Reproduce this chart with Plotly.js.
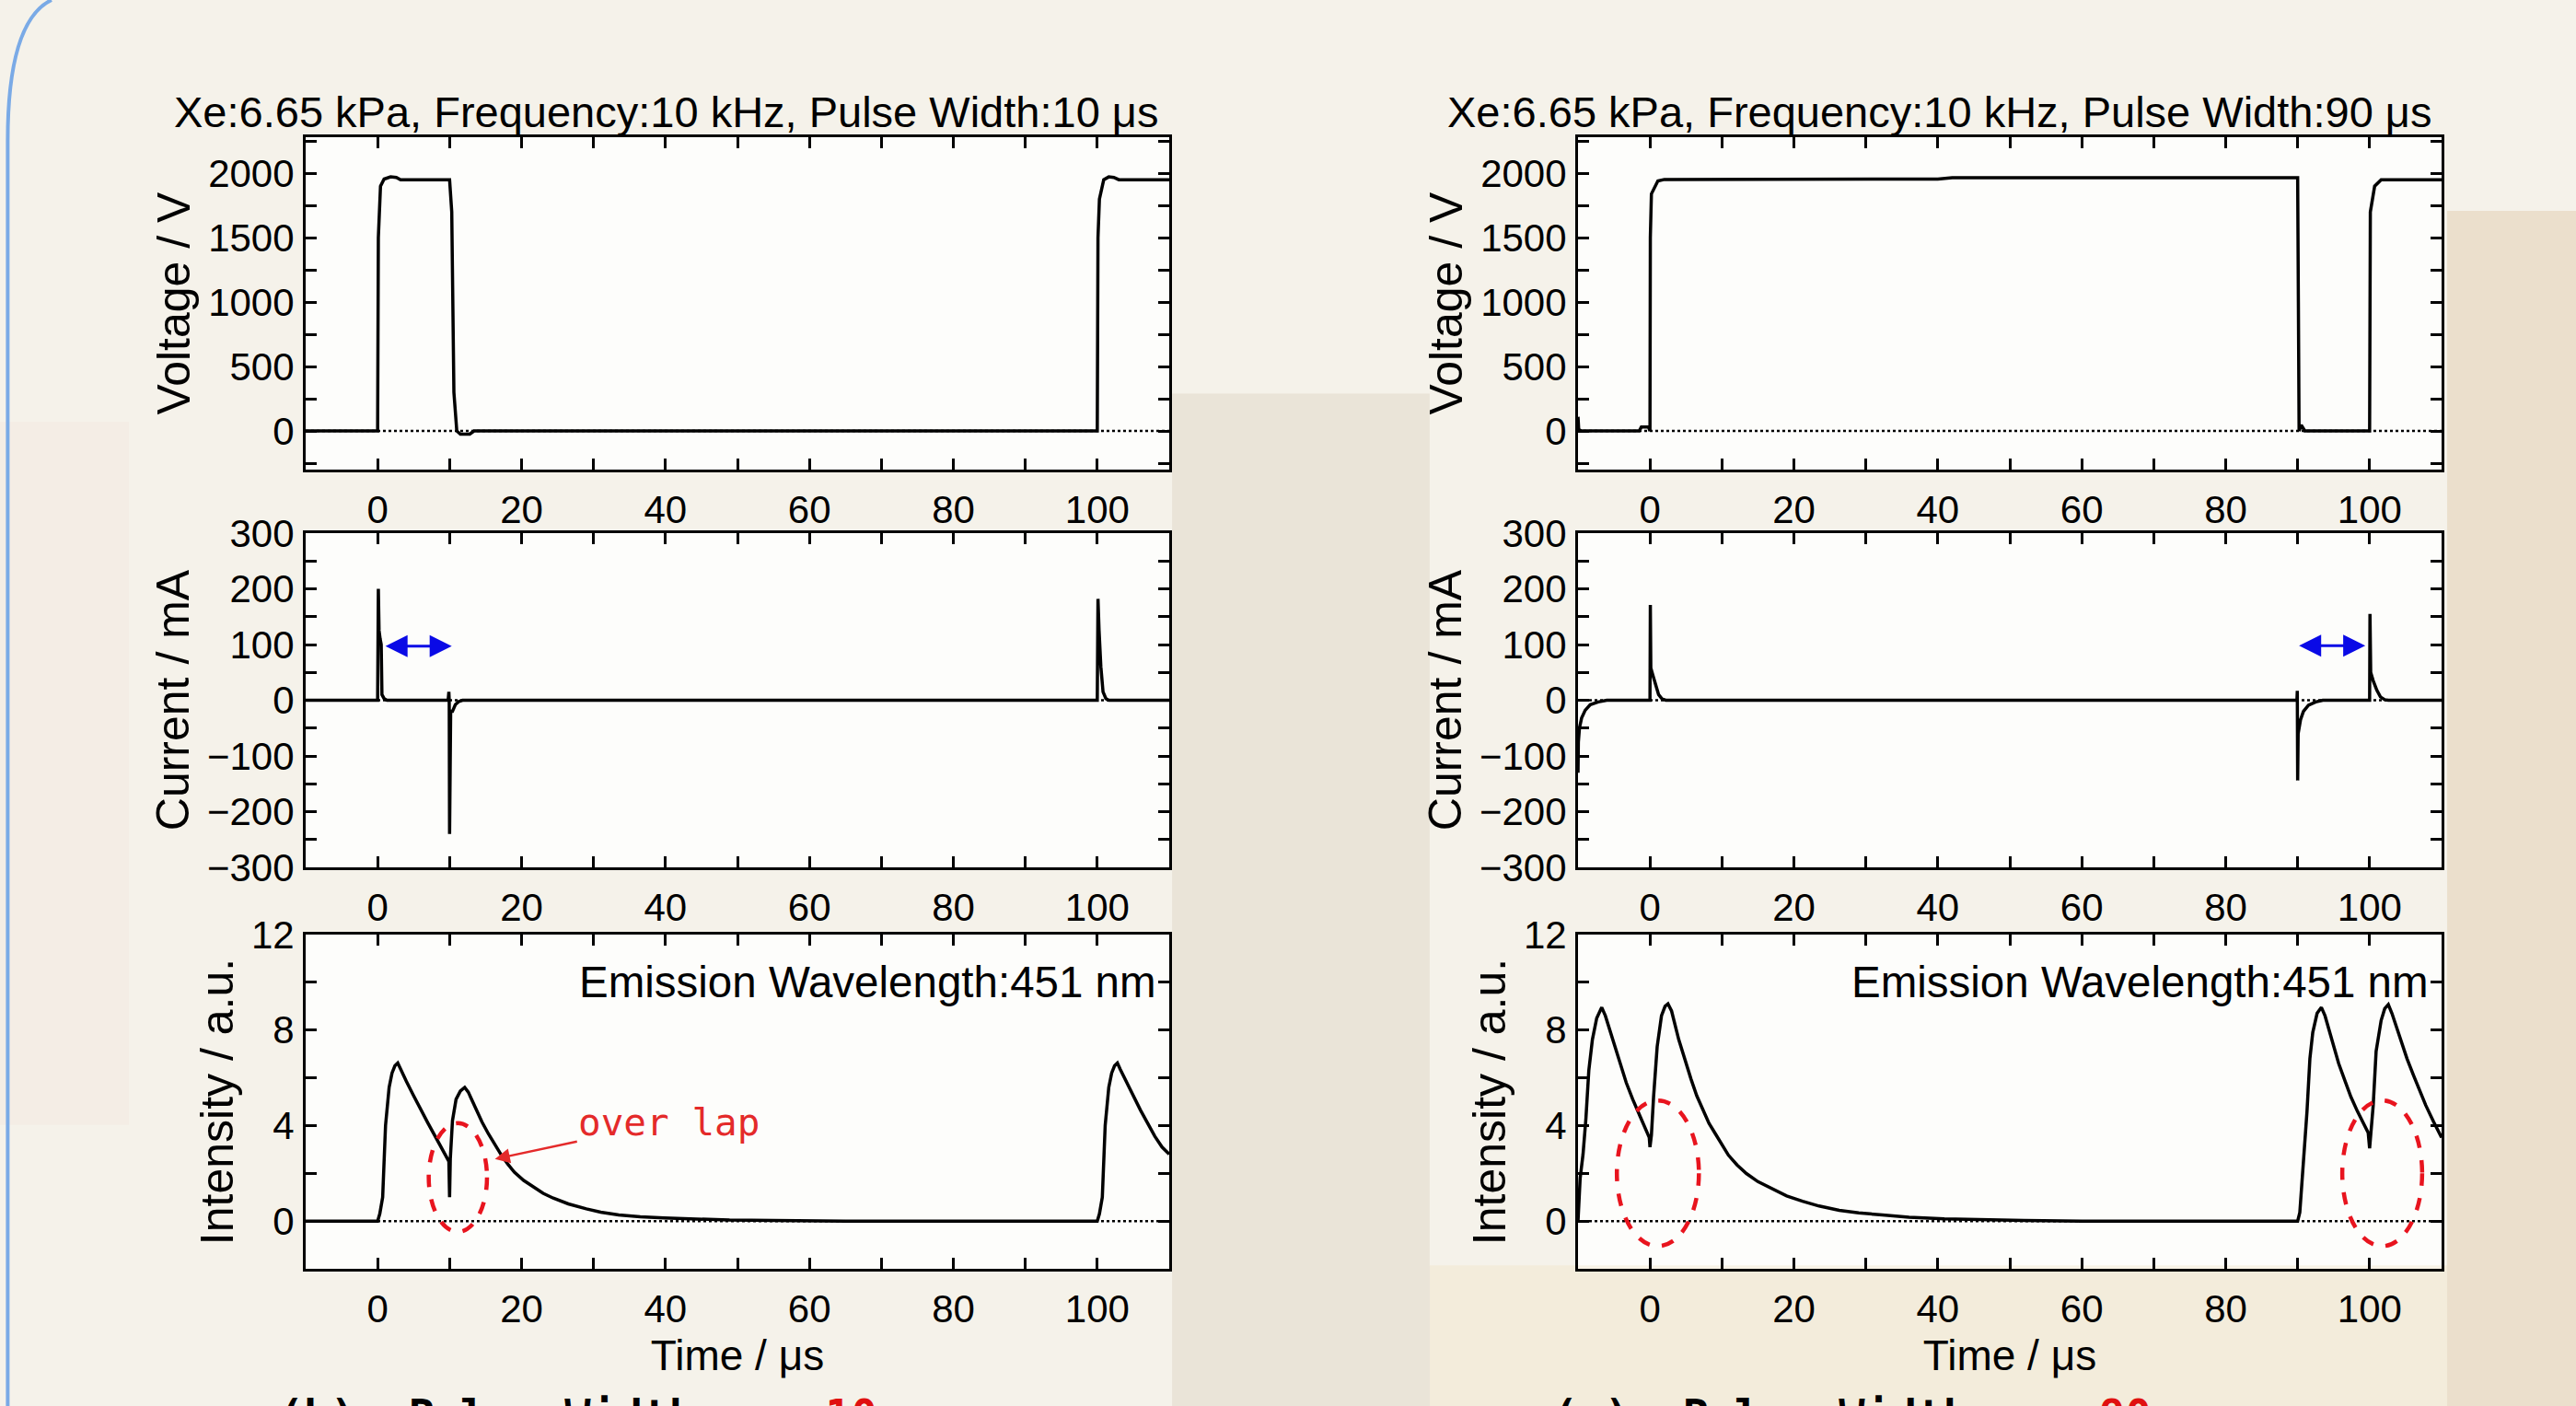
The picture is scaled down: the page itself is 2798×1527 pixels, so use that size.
<!DOCTYPE html>
<html>
<head>
<meta charset="utf-8">
<script src="https://cdn.plot.ly/plotly-3.0.1.min.js"></script>
<style>
html,body{margin:0;padding:0;background:#f5f2ea;}
#chart{width:2798px;height:1527px;}
</style>
</head>
<body>
<div id="chart"></div>
<script>
// ---------- data ----------
// (b) Pulse width 10 us
const leftVoltageTime = [-10,0,0.1,0.4,0.9,1.8,2.6,3.2,10.0,10.3,10.6,11.0,11.5,12.8,13.4,100,100.1,100.3,100.9,101.6,102.3,103,110];
const leftVoltage     = [0,0,1500,1900,1955,1972,1968,1950,1950,1700,300,0,-25,-25,0,0,1500,1800,1950,1972,1968,1950,1950];

const leftCurrentTime = [-10,0,0.1,0.2,0.35,0.5,0.6,0.9,1.3,9.8,9.9,9.95,10.0,10.05,10.15,10.4,10.8,11.3,11.8,100,100.1,100.25,100.5,100.8,101.2,101.6,110];
const leftCurrent     = [0,0,200,125,110,100,10,3,0,0,15,0,-240,-100,-20,-20,-8,-2,0,0,182,125,60,15,3,0,0];

const leftIntensityTime = [-10,0,0.3,0.7,1.1,1.6,2.0,2.4,2.8,3.2,4.0,5.0,6.0,7.0,8.0,9.0,9.7,9.9,10.0,10.1,10.4,10.9,11.5,12.1,12.6,13.6,14.5,15.4,16.3,17.2,18.1,19.0,20.3,21.7,23.0,24.4,26.5,29.0,31.0,33.5,36.5,39.8,44,48.9,55,65,100,100.3,100.7,101.1,101.6,102.0,102.4,102.8,103.2,104,105,106,107,108,109,110];
const leftIntensity     = [0,0,0.3,1.0,4.0,5.6,6.2,6.5,6.62,6.35,5.85,5.25,4.65,4.1,3.55,3.0,2.65,2.5,1.0,2.6,4.2,5.1,5.45,5.6,5.4,4.7,4.15,3.65,3.2,2.76,2.38,2.05,1.7,1.41,1.16,0.96,0.72,0.51,0.37,0.26,0.18,0.13,0.08,0.04,0.02,0,0,0.3,1.0,4.0,5.6,6.2,6.5,6.62,6.35,5.85,5.25,4.65,4.1,3.55,3.1,2.8];

// (c) Pulse width 90 us
const rightVoltageTime = [-10,-9.9,-9.5,-1.5,-1.2,-0.2,0,0.05,0.2,1.1,2,40,42,90,90.1,90.2,90.5,91,100,100.1,100.7,101.6,110];
const rightVoltage     = [110,10,0,0,30,30,0,1500,1840,1940,1952,1955,1965,1965,1000,0,45,0,0,1700,1900,1950,1950];

const rightCurrentTime = [-10,-9.95,-9.8,-9.5,-9.0,-8.3,-7.2,-6,0,0.05,0.12,0.4,0.8,1.2,1.7,2.2,89.9,89.95,90.0,90.07,90.4,90.8,91.5,92.5,93.5,100,100.05,100.15,100.5,101,101.5,102.1,102.6,110];
const rightCurrent     = [-130,-75,-50,-32,-18,-8,-3,0,0,171,58,45,25,10,2,0,0,17,-144,-60,-35,-20,-9,-3,0,0,155,50,35,18,6,1,0,0];

const rightIntensityTime = [-10,-9.85,-9.7,-9.3,-8.9,-8.5,-8.0,-7.4,-6.7,-6.2,-5.0,-4.2,-3.3,-2.4,-1.6,-0.8,-0.1,0.0,0.2,0.5,1.0,1.6,2.1,2.5,3.0,4.0,4.8,5.7,6.5,7.4,8.2,9.1,10.0,10.9,12.1,13.4,15.0,16.9,19.0,21.2,23.5,26.3,29,32.3,36,40.9,46,52,60,90,90.3,90.8,91.3,91.7,92.1,92.7,93.3,93.8,94.8,95.7,96.6,97.4,98.3,99.1,99.8,100.0,100.2,100.5,100.9,101.6,102.1,102.6,103.1,104.4,105.2,106.1,107.0,107.8,108.9,110];
const rightIntensity     = [0,0.8,1.8,2.8,4.3,6.3,7.6,8.5,8.95,8.6,7.4,6.6,5.8,5.1,4.55,4.0,3.5,3.1,3.6,5.2,7.3,8.6,9.0,9.1,8.8,7.6,6.8,5.95,5.25,4.65,4.1,3.65,3.2,2.76,2.35,1.99,1.65,1.35,1.05,0.83,0.63,0.45,0.34,0.26,0.16,0.09,0.05,0.02,0,0,0.36,2.3,4.6,6.8,7.9,8.7,8.95,8.6,7.5,6.6,5.85,5.2,4.6,4.1,3.7,3.05,3.8,4.85,7.1,8.4,8.9,9.07,8.7,7.5,6.8,6.1,5.45,4.85,4.15,3.5];

// texts
const panelTitles = ["Xe:6.65 kPa, Frequency:10 kHz, Pulse Width:10 μs", "Xe:6.65 kPa, Frequency:10 kHz, Pulse Width:90 μs"];
const yTitles = ["Voltage / V", "Current / mA", "Intensity / a.u."];
const xTitle = "Time / μs";
const emissionLabel = "Emission Wavelength:451 nm";
const captionLabels = ["(b)  Pulse Width  :  ", "(c)  Pulse Width  :  "];
const captionWidths = ["10", "90"];

// axis ranges / ticks
const xRange = [-10, 110];
const voltageRange = [-300, 2280];
const currentRange = [-300, 300];
const intensityRange = [-2, 12];

// ---------- layout helpers ----------
const W = 2798, H = 1527;
const FONT = "Liberation Sans, Arial, Helvetica, sans-serif";
const px2x = p => p / W;
const px2y = p => 1 - p / H;

const colDomains = [[px2x(332), px2x(1270)], [px2x(1714), px2x(2652)]];
const rowDomains = [[px2y(510), px2y(149)], [px2y(942), px2y(579)], [px2y(1378), px2y(1015)]];
const titleCenters = [px2x(724), px2x(2106)];

function axisBase(extra) {
  return Object.assign({
    showline: true, linecolor: 'black', linewidth: 3, mirror: 'ticks',
    ticks: 'inside', ticklen: 12, tickwidth: 3, tickcolor: 'black',
    showgrid: false, zeroline: false, automargin: false, fixedrange: true,
    tickfont: {family: FONT, size: 42, color: 'black'}
  }, extra);
}

const layout = {
  width: W, height: H,
  margin: {l: 0, r: 0, t: 0, b: 0},
  paper_bgcolor: '#f5f2ea',
  plot_bgcolor: 'rgba(255,255,255,0.82)',
  showlegend: false,
  font: {family: FONT, color: 'black'},
  annotations: [],
  shapes: []
};

const traces = [];
const series = [
  [leftVoltageTime, leftVoltage, leftCurrentTime, leftCurrent, leftIntensityTime, leftIntensity],
  [rightVoltageTime, rightVoltage, rightCurrentTime, rightCurrent, rightIntensityTime, rightIntensity]
];
const yRanges = [voltageRange, currentRange, intensityRange];
const yDticks = [[500, 250], [100, 50], [4, 2]];

for (let c = 0; c < 2; c++) {
  for (let r = 0; r < 3; r++) {
    const idx = c * 3 + r + 1;
    const xa = 'xaxis' + (idx === 1 ? '' : idx);
    const ya = 'yaxis' + (idx === 1 ? '' : idx);
    const xr = 'x' + (idx === 1 ? '' : idx);
    const yr = 'y' + (idx === 1 ? '' : idx);
    layout[xa] = axisBase({
      domain: colDomains[c], anchor: yr, range: xRange,
      tick0: 0, dtick: 20, ticklabelstandoff: 5,
      minor: {ticks: 'inside', ticklen: 12, tickwidth: 3, tickcolor: 'black', dtick: 10, tick0: 0, showgrid: false}
    });
    if (r === 2) {
      layout[xa].title = {text: xTitle, font: {family: FONT, size: 46, color: 'black'}, standoff: 12};
    }
    layout[ya] = axisBase({
      domain: rowDomains[r], anchor: xr, range: yRanges[r],
      tick0: 0, dtick: yDticks[r][0], ticklabelstandoff: 1,
      minor: {ticks: 'inside', ticklen: 12, tickwidth: 3, tickcolor: 'black', dtick: yDticks[r][1], tick0: 0, showgrid: false},
      title: {text: yTitles[r], font: {family: FONT, size: 50, color: 'black'}, standoff: 4}
    });
    traces.push({
      type: 'scatter', mode: 'lines', x: series[c][r * 2], y: series[c][r * 2 + 1],
      xaxis: xr, yaxis: yr, line: {color: 'black', width: 3.5}, hoverinfo: 'skip'
    });
    // dotted zero line
    layout.shapes.push({type: 'line', xref: xr, yref: yr, x0: xRange[0], x1: xRange[1], y0: 0, y1: 0,
      layer: 'below', line: {color: 'black', width: 2.5, dash: 'dot'}});
  }
  // panel title
  layout.annotations.push({
    xref: 'paper', yref: 'paper', x: titleCenters[c], y: px2y(121),
    xanchor: 'center', yanchor: 'middle', showarrow: false, text: panelTitles[c],
    font: {family: FONT, size: 47, color: 'black'}
  });
  // emission wavelength label
  layout.annotations.push({
    xref: 'x' + (c * 3 + 3), yref: 'y' + (c * 3 + 3), x: 108.5, y: 10,
    xanchor: 'right', yanchor: 'middle', showarrow: false, text: emissionLabel,
    font: {family: FONT, size: 47.5, color: 'black'}
  });
  // caption at the bottom (cut off by the picture edge, as in the reference)
  layout.annotations.push({
    xref: 'paper', yref: 'paper', x: px2x(c === 0 ? 300 : 1684), y: -0.006,
    xanchor: 'left', yanchor: 'middle', showarrow: false,
    text: '<b>' + captionLabels[c] + '<span style="color:#e01010">' + captionWidths[c] + '</span>  μs</b>',
    font: {family: 'DejaVu Sans Mono, monospace', size: 47, color: 'black'}
  });
}

// blue double arrows (current panels)
layout.annotations.push({
  xref: 'x2', yref: 'y2', axref: 'x2', ayref: 'y2', x: 10.3, y: 97, ax: 0.9, ay: 97,
  text: '', showarrow: true, arrowside: 'end+start', arrowhead: 2, startarrowhead: 2,
  arrowsize: 1.6, startarrowsize: 1.6, arrowwidth: 3, arrowcolor: '#0a0ae6'
});
layout.annotations.push({
  xref: 'x5', yref: 'y5', axref: 'x5', ayref: 'y5', x: 99.4, y: 98, ax: 90.0, ay: 98,
  text: '', showarrow: true, arrowside: 'end+start', arrowhead: 2, startarrowhead: 2,
  arrowsize: 1.6, startarrowsize: 1.6, arrowwidth: 3, arrowcolor: '#0a0ae6'
});

// "over lap" note
layout.annotations.push({
  xref: 'x3', yref: 'y3', axref: 'x3', ayref: 'y3', x: 16.3, y: 2.6, ax: 40.5, ay: 4.15,
  text: 'over lap', showarrow: true, arrowhead: 2, arrowsize: 1.3, arrowwidth: 2.5,
  arrowcolor: '#e42a2a', standoff: 0,
  font: {family: 'DejaVu Sans Mono, monospace', size: 41, color: '#e42a2a'}
});

// red dashed ellipses
const ellipses = [
  ['x3', 'y3', 7.1, 15.2, -0.45, 4.1],
  ['x6', 'y6', -4.6, 6.8, -1.05, 5.05],
  ['x6', 'y6', 96.2, 107.3, -1.05, 5.05]
];
ellipses.forEach(e => layout.shapes.push({
  type: 'circle', xref: e[0], yref: e[1], x0: e[2], x1: e[3], y0: e[4], y1: e[5],
  line: {color: '#e8141e', width: 4.5, dash: 'dash'}
}));

// soft background tones (paper)
const bg = [
  [0.455, 0.555, 0.0, 0.72, 'rgba(205,190,165,0.26)'],
  [0.95, 1.0, 0.0, 0.85, 'rgba(220,195,160,0.40)'],
  [0.555, 0.95, 0.0, 0.10, 'rgba(238,222,185,0.30)'],
  [0.0, 0.05, 0.2, 0.7, 'rgba(240,215,200,0.14)']
];
bg.forEach(b => layout.shapes.push({
  type: 'rect', xref: 'paper', yref: 'paper', x0: b[0], x1: b[1], y0: b[2], y1: b[3],
  layer: 'below', fillcolor: b[4], line: {width: 0}
}));
// blue rounded frame corner at the left edge
layout.shapes.push({
  type: 'path', xref: 'paper', yref: 'paper', layer: 'below',
  path: 'M 0.003,0 L 0.003,0.90 Q 0.003,0.985 0.02,1.0',
  line: {color: '#7aaae6', width: 4}
});

Plotly.newPlot('chart', traces, layout, {displayModeBar: false, staticPlot: true});
</script>
</body>
</html>
